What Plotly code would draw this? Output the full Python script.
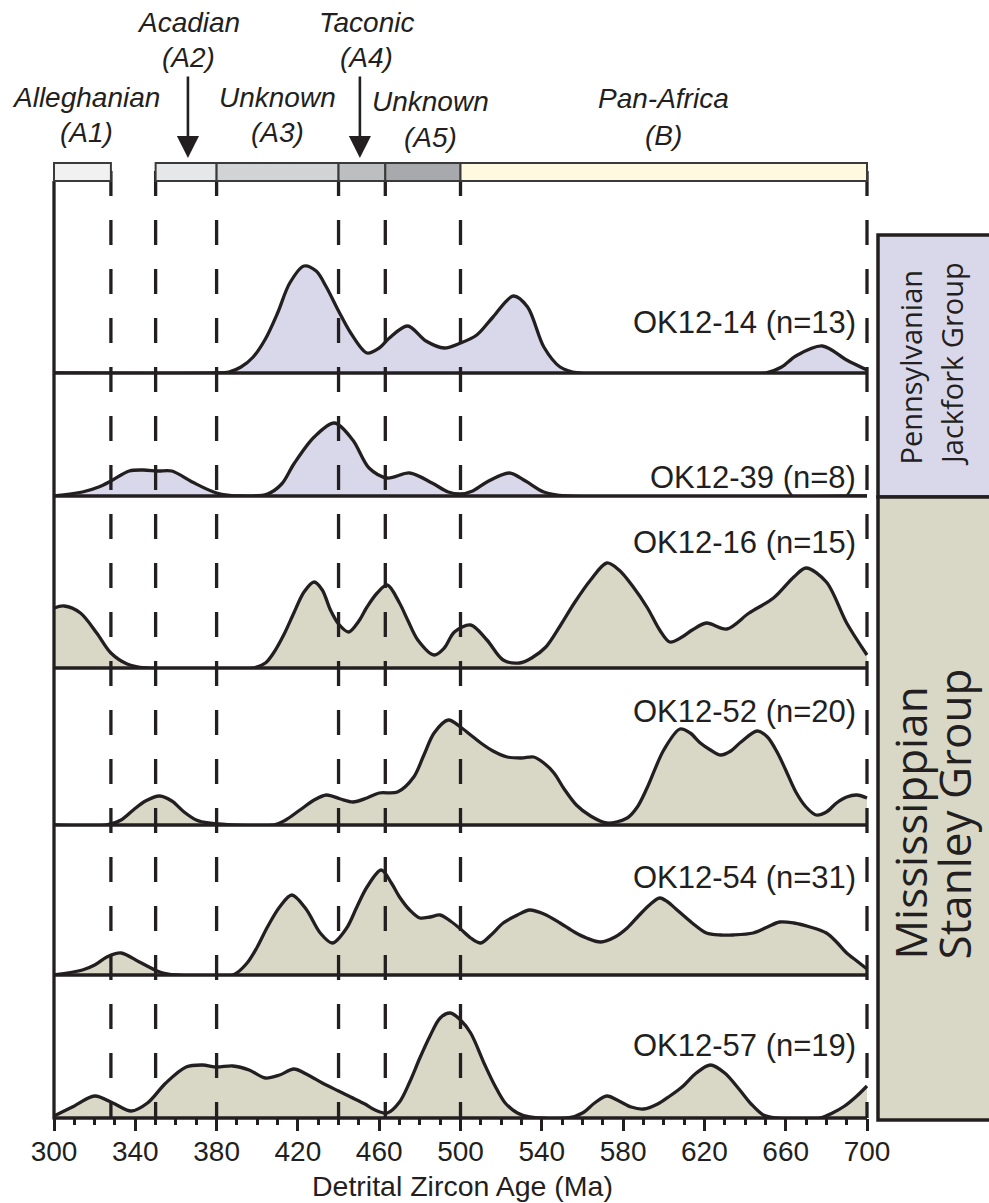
import plotly.graph_objects as go

W, H = 989, 1203

# ---------------- data ----------------
sample_labels = ["OK12-14 (n=13)", "OK12-39 (n=8)", "OK12-16 (n=15)",
                 "OK12-52 (n=20)", "OK12-54 (n=31)", "OK12-57 (n=19)"]
sample_groups = ["Pennsylvanian", "Pennsylvanian", "Mississippian",
                 "Mississippian", "Mississippian", "Mississippian"]

ok12_14_age = [300, 380, 386, 392, 398, 404, 410, 416, 423, 429, 434, 440, 446, 454, 460, 465,
               474, 483, 492, 500, 508, 516, 526, 533, 541, 549, 558, 650, 658, 665, 678, 690, 700]
ok12_14_den = [0, 0, 1, 6, 16, 34, 60, 90, 107, 102, 86, 62, 40, 20, 25, 35,
               47, 32, 25, 30, 38, 56, 77, 66, 26, 6, 0, 0, 6, 17, 27, 13, 3]

ok12_39_age = [300, 314, 322, 328, 337, 344, 351, 358, 368, 380, 392, 405, 412, 418, 428, 438,
               447, 455, 464, 475, 486, 494, 500, 506, 513, 524, 532, 541, 552, 700]
ok12_39_den = [0, 4, 9, 15, 25, 26, 25, 25, 14, 3, 0, 2, 12, 32, 59, 73,
               56, 28, 18, 23, 13, 4, 2, 5, 14, 23, 15, 4, 0, 0]

ok12_16_age = [300, 305, 313, 321, 328, 336, 345, 398, 404, 408, 413, 418, 423, 428, 432, 436,
               440, 445, 450, 454, 459, 464, 470, 474, 479, 487, 492, 497, 505, 513, 521, 529,
               535, 542, 549, 556, 564, 572, 578, 585, 592, 598, 603, 609, 614, 621, 631, 642,
               654, 664, 670, 680, 690, 700]
ok12_16_den = [60, 62, 55, 35, 15, 4, 0, 0, 5, 15, 33, 55, 76, 86, 78, 58,
               44, 36, 47, 61, 75, 83, 65, 48, 28, 13, 20, 36, 43, 28, 8, 5,
               10, 21, 42, 65, 88, 105, 98, 81, 60, 38, 26, 31, 38, 45, 39, 55,
               70, 91, 100, 86, 45, 13]

ok12_52_age = [300, 326, 333, 339, 345, 352, 358, 364, 370, 376, 408, 414, 421, 428, 434, 441,
               447, 454, 460, 469, 477, 482, 487, 494, 500, 505, 510, 516, 523, 530, 536, 541,
               546, 551, 557, 564, 572, 582, 587, 592, 600, 608, 613, 618, 623, 628, 633, 638,
               646, 651, 656, 660, 665, 670, 675, 680, 685, 690, 695, 700]
ok12_52_den = [0, 0, 5, 15, 24, 29, 24, 13, 5, 2, 0, 5, 15, 25, 30, 26,
               23, 27, 32, 33, 48, 70, 92, 105, 98, 90, 82, 74, 68, 67, 68, 62,
               52, 36, 20, 9, 2, 7, 18, 38, 75, 96, 92, 82, 75, 70, 74, 83,
               94, 88, 72, 55, 33, 18, 10, 13, 22, 28, 30, 27]

ok12_54_age = [300, 314, 320, 326, 333, 342, 352, 360, 388, 395, 400, 405, 411, 417, 424, 431,
               437, 444, 449, 454, 461, 466, 470, 475, 480, 485, 490, 495, 500, 505, 510, 515,
               521, 528, 534, 541, 549, 556, 562, 569, 576, 582, 588, 593, 598, 602, 606, 614,
               621, 628, 634, 644, 651, 657, 664, 672, 680, 685, 690, 695, 700]
ok12_54_den = [0, 5, 10, 18, 22, 13, 3, 0, 0, 12, 28, 48, 68, 80, 66, 42,
               32, 47, 68, 88, 105, 92, 78, 65, 57, 58, 60, 54, 46, 37, 32, 40,
               52, 60, 65, 61, 52, 43, 37, 33, 38, 47, 60, 70, 77, 73, 66, 52,
               42, 40, 40, 42, 48, 53, 52, 48, 42, 33, 22, 14, 6]

ok12_57_age = [300, 309, 320, 329, 338, 346, 355, 365, 373, 380, 388, 396, 404, 411, 418, 425,
               432, 440, 446, 453, 458, 464, 470, 475, 480, 485, 490, 495, 500, 505, 512, 517,
               522, 528, 534, 553, 560, 566, 572, 578, 584, 590, 597, 603, 609, 616, 623, 630,
               637, 643, 649, 655, 677, 683, 689, 695, 700]
ok12_57_den = [2, 11, 22, 15, 7, 15, 35, 51, 53, 51, 52, 48, 40, 43, 49, 43,
               35, 27, 21, 14, 8, 5, 16, 36, 60, 82, 100, 105, 98, 85, 53, 32,
               15, 5, 1, 0, 5, 15, 22, 17, 11, 9, 14, 22, 31, 45, 53, 45,
               29, 14, 3, 0, 0, 5, 12, 22, 32]

sample_ages = [ok12_14_age, ok12_39_age, ok12_16_age, ok12_52_age, ok12_54_age, ok12_57_age]
sample_dens = [ok12_14_den, ok12_39_den, ok12_16_den, ok12_52_den, ok12_54_den, ok12_57_den]

tick_vals = [300, 340, 380, 420, 460, 500, 540, 580, 620, 660, 700]
boundary_ages = [328, 350, 380, 440, 463, 500, 700]

event_starts = [300, 350, 380, 440, 463, 500]
event_ends = [328, 380, 440, 463, 500, 700]
event_titles = ["Alleghanian", "Acadian", "Unknown", "Taconic", "Unknown", "Pan-Africa"]
event_codes = ["(A1)", "(A2)", "(A3)", "(A4)", "(A5)", "(B)"]
arrow_ages = [365.9, 450.5]   # Acadian, Taconic arrows

# ---------------- styling / geometry ----------------
INK = "#231f20"
FILL = {"Pennsylvanian": "#d9d8eb", "Mississippian": "#d9d8c7"}
BAR_COLORS = ["#f1f1f2", "#e6e7e8", "#d1d3d4", "#bcbec0", "#a7a9ac", "#fff9df"]
LW = 3.3

X_LEFT, X_RIGHT = 54, 867          # pixel positions of 300 and 700 Ma
PAD = 6                            # extra px left/right so edge lines are not clipped
XMIN, XMAX = 300, 700
k = (X_RIGHT - X_LEFT) / (XMAX - XMIN)
panel_tops = [185, 373, 496, 668, 825, 975]
panel_bots = [373, 496, 668, 825, 975, 1118]


def py(p):
    return 1 - p / H


def px(p):
    return p / W


fig = go.Figure()
for i in range(6):
    yname = "y" if i == 0 else f"y{i+1}"
    fig.add_trace(go.Scatter(
        x=sample_ages[i], y=sample_dens[i], xaxis="x", yaxis=yname,
        mode="lines", fill="tozeroy", fillcolor=FILL[sample_groups[i]],
        line=dict(color=INK, width=LW, shape="spline", smoothing=0.9),
        hoverinfo="skip", showlegend=False))

layout = dict(
    width=W, height=H, margin=dict(l=0, r=0, t=0, b=0, autoexpand=False),
    paper_bgcolor="white", plot_bgcolor="rgba(0,0,0,0)", showlegend=False,
    xaxis=dict(domain=[px(X_LEFT - PAD), px(X_RIGHT + PAD)],
               range=[XMIN - PAD / k, XMAX + PAD / k],
               anchor="free", position=py(panel_bots[-1]),
               automargin=False,
               showgrid=False, zeroline=False, showline=False,
               ticks="outside", ticklen=12, tickwidth=3, tickcolor=INK,
               tickvals=tick_vals, ticktext=[str(v) for v in tick_vals],
               ticklabelstandoff=-4,
               tickfont=dict(family="Liberation Sans, Arial", size=28, color=INK),
               minor=dict(dtick=10, tick0=300, ticks="outside", ticklen=6, tickwidth=2.5,
                          tickcolor=INK, showgrid=False)),
)
for i in range(6):
    key = "yaxis" if i == 0 else f"yaxis{i+1}"
    layout[key] = dict(domain=[py(panel_bots[i]), py(panel_tops[i])],
                       range=[0, panel_bots[i] - panel_tops[i]],
                       visible=False, anchor="x", fixedrange=True, automargin=False)
fig.update_layout(**layout)

shapes = []
# dashed boundary lines
for b in boundary_ages:
    shapes.append(dict(type="line", xref="x", yref="paper", x0=b, x1=b,
                       y0=py(171), y1=py(1118), layer="above",
                       line=dict(color=INK, width=LW, dash="25px,24px")))
# panel baselines (drawn at each panel's bottom edge)
for i in range(6):
    shapes.append(dict(type="line", xref="x", yref="paper", x0=XMIN, x1=XMAX,
                       y0=py(panel_bots[i]), y1=py(panel_bots[i]),
                       layer="above", line=dict(color=INK, width=LW)))
# left axis line
shapes.append(dict(type="line", xref="x", yref="paper", x0=XMIN, x1=XMIN,
                   y0=py(181), y1=py(1119.5), layer="above", line=dict(color=INK, width=LW)))
# event bars
for s, e, c in zip(event_starts, event_ends, BAR_COLORS):
    shapes.append(dict(type="rect", xref="x", yref="paper", x0=s, x1=e,
                       y0=py(181), y1=py(163), layer="above", fillcolor=c,
                       line=dict(color="#3a3a3a", width=2)))
# group boxes on right
shapes.append(dict(type="rect", xref="paper", yref="paper", x0=px(878), x1=1.05,
                   y0=py(497), y1=py(235), layer="above", fillcolor=FILL["Pennsylvanian"],
                   line=dict(color=INK, width=3.5)))
shapes.append(dict(type="rect", xref="paper", yref="paper", x0=px(878), x1=1.05,
                   y0=py(1120), y1=py(497), layer="above", fillcolor=FILL["Mississippian"],
                   line=dict(color=INK, width=3.5)))
fig.update_layout(shapes=shapes)

ann = []
# event labels
label_px = [86, 188, 277, 366, 430, 663]
label_y1 = [98, 22, 98, 22, 101, 99]
label_y2 = [133, 58, 133, 58, 137, 135]
for t, c, lx, y1, y2 in zip(event_titles, event_codes, label_px, label_y1, label_y2):
    for txt, yy in ((t, y1), (c, y2)):
        ann.append(dict(text=f"<i>{txt}</i>", xref="paper", yref="paper", x=px(lx), y=py(yy),
                        xanchor="center", yanchor="middle", showarrow=False,
                        font=dict(family="Liberation Sans, Arial", size=28, color=INK)))
# arrows
for a in arrow_ages:
    ann.append(dict(text="", xref="x", yref="paper", x=a, y=py(158), ax=0, ay=-83,
                    showarrow=True, arrowhead=2, arrowsize=1.7, arrowwidth=2.6,
                    arrowcolor=INK, standoff=0))
# sample labels
label_yc = [323, 477, 542, 711, 877, 1045]
for s, yc in zip(sample_labels, label_yc):
    ann.append(dict(text=s, xref="paper", yref="paper", x=px(858), y=py(yc),
                    xanchor="right", yanchor="middle", showarrow=False,
                    font=dict(family="Liberation Sans, Arial", size=31, color=INK)))
# axis title
ann.append(dict(text="Detrital Zircon Age (Ma)", xref="paper", yref="paper", x=px(462), y=py(1186),
                xanchor="center", yanchor="middle", showarrow=False,
                font=dict(family="Liberation Sans, Arial", size=28.5, color=INK)))
# group box labels (rotated)
for txt, cx, ybot, size in (("Pennsylvanian", 910, 467, 29), ("Jackfork Group", 952, 468, 29),
                            ("Mississippian", 909, 962, 44), ("Stanley Group", 953, 962, 44)):
    ann.append(dict(text=txt, xref="paper", yref="paper", x=px(cx), y=py(ybot),
                    xanchor="center", yanchor="bottom", textangle=-90, showarrow=False,
                    font=dict(family="Open Sans", size=size, color=INK)))
fig.update_layout(annotations=ann)

fig.write_html("out.html")
